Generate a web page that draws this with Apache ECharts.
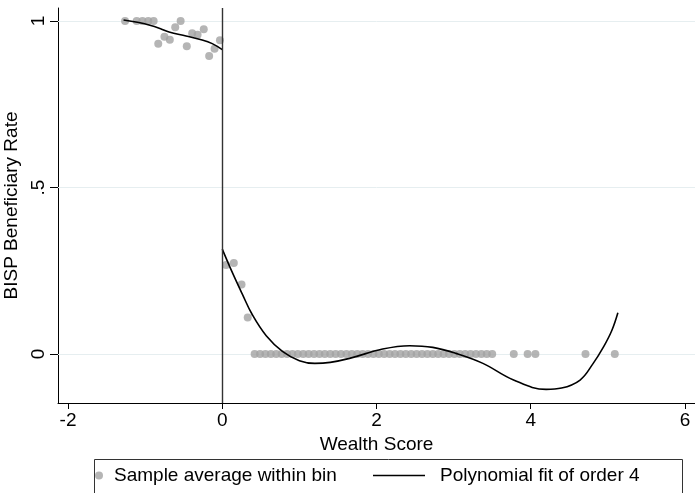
<!DOCTYPE html>
<html>
<head>
<meta charset="utf-8">
<script src="https://cdn.jsdelivr.net/npm/echarts@6/dist/echarts.min.js"></script>
<style>html,body{margin:0;padding:0;background:#fff}#c{width:695px;height:493px}</style>
</head>
<body>
<div id="c"></div>
<script>
// Binned sample averages (left of cutoff)
var leftBinX = [-1.26, -1.11, -1.035, -0.96, -0.89, -0.83, -0.75, -0.68, -0.61, -0.54, -0.46, -0.39, -0.32, -0.24, -0.17, -0.10, -0.03];
var leftBinY = [1.0, 1.0, 1.0, 1.0, 1.0, 0.932, 0.953, 0.944, 0.981, 1.0, 0.924, 0.963, 0.959, 0.975, 0.895, 0.917, 0.942];
// Binned sample averages (right of cutoff)
var rightBinX = [0.05, 0.15, 0.25, 0.33,
  0.42, 0.49, 0.56, 0.63, 0.70, 0.77, 0.84, 0.91, 0.98, 1.05, 1.12, 1.19, 1.26, 1.33, 1.40,
  1.47, 1.54, 1.61, 1.68, 1.75, 1.82, 1.89, 1.96, 2.03, 2.10, 2.17, 2.24, 2.31, 2.38, 2.45,
  2.52, 2.59, 2.66, 2.73, 2.80, 2.87, 2.94, 3.01, 3.08, 3.15, 3.22, 3.29, 3.36, 3.43, 3.50,
  3.78, 3.96, 4.06, 4.71, 5.09];
var rightBinY = [0.267, 0.273, 0.209, 0.110,
  0, 0, 0, 0, 0, 0, 0, 0, 0, 0, 0, 0, 0, 0, 0,
  0, 0, 0, 0, 0, 0, 0, 0, 0, 0, 0, 0, 0, 0, 0,
  0, 0, 0, 0, 0, 0, 0, 0, 0, 0, 0, 0, 0, 0, 0,
  0, 0, 0, 0, 0];
// Polynomial fit (order 4)
var leftFitX = [-1.28, -1.1, -0.95, -0.8, -0.69, -0.47, -0.26, -0.13, 0];
var leftFitY = [1.003, 0.996, 0.988, 0.977, 0.967, 0.955, 0.943, 0.932, 0.914];
var rightFitX = [0, 0.13, 0.26, 0.39, 0.57, 0.78, 1.0, 1.2, 1.4, 1.65, 2.08, 2.43, 2.73, 3.03, 3.38, 3.77, 4.2, 4.4, 4.64, 4.81, 4.94, 5.05, 5.13];
var rightFitY = [0.315, 0.245, 0.18, 0.118, 0.055, 0.008, -0.02, -0.028, -0.025, -0.013, 0.015, 0.025, 0.02, 0.002, -0.028, -0.077, -0.106, -0.102, -0.078, -0.028, 0.02, 0.07, 0.124];
// Ticks
var xTicks = [-2, 0, 2, 4, 6];
var xTickLabels = ['-2', '0', '2', '4', '6'];
var yTicks = [0, 0.5, 1];
var yTickLabels = ['0', '.5', '1'];
var cutoff = 0;

function zip(a, b) { return a.map(function (v, i) { return [v, b[i]]; }); }
var binData = zip(leftBinX, leftBinY).concat(zip(rightBinX, rightBinY));

var FONT = 'Liberation Sans';
var FS = 19;
var chart = echarts.init(document.getElementById('c'), null, { renderer: 'canvas' });
chart.setOption({
  animation: false,
  backgroundColor: '#fff',
  textStyle: { fontFamily: FONT },
  grid: { left: 58, right: 0, top: 8, bottom: 90, containLabel: false, outerBoundsMode: 'none' },
  xAxis: {
    type: 'value', min: -2.13, max: 6.13,
    axisLine: { show: true, onZero: false, lineStyle: { color: '#000', width: 1 } },
    axisTick: { show: true, length: 6, customValues: xTicks, lineStyle: { color: '#000' } },
    axisLabel: { show: true, customValues: xTicks, margin: 8, color: '#000', fontSize: FS, fontFamily: FONT, hideOverlap: false,
      formatter: function (v) { var i = xTicks.indexOf(v); return i >= 0 ? xTickLabels[i] : ''; } },
    splitLine: { show: false },
    name: 'Wealth Score', nameLocation: 'middle', nameGap: 27,
    nameTextStyle: { color: '#000', fontSize: FS, fontFamily: FONT }
  },
  yAxis: {
    type: 'value', min: -0.147, max: 1.039,
    axisLine: { show: true, onZero: false, lineStyle: { color: '#000', width: 1 } },
    axisTick: { show: true, length: 8, customValues: yTicks, lineStyle: { color: '#000' } },
    axisLabel: { show: true, customValues: yTicks, rotate: 90, margin: 10, color: '#000', fontSize: FS, fontFamily: FONT,
      formatter: function (v) { var i = yTicks.indexOf(v); return i >= 0 ? yTickLabels[i] : ''; } },
    splitLine: { show: false },
    name: 'BISP Beneficiary Rate', nameLocation: 'middle', nameGap: 32,
    nameTextStyle: { color: '#000', fontSize: FS, fontFamily: FONT }
  },
  legend: [
    { left: 90, top: 461, itemWidth: 8, itemHeight: 8, icon: 'circle',
      data: ['Sample average within bin'],
      textStyle: { color: '#000', fontSize: FS, fontFamily: FONT, padding: [0, 0, 0, 6] } },
    { left: 368, top: 461, itemWidth: 52, itemHeight: 1.5, icon: 'rect',
      data: ['Polynomial fit of order 4'],
      textStyle: { color: '#000', fontSize: FS, fontFamily: FONT, padding: [0, 0, 0, 10] } }
  ],
  graphic: [{
    type: 'rect', left: 92, top: 457, z: 0, silent: true,
    shape: { width: 588, height: 45 },
    style: { fill: 'none', stroke: '#333', lineWidth: 1 }
  }],
  series: [
    {
      name: 'Sample average within bin', type: 'scatter', z: 3,
      symbol: 'circle', symbolSize: 8,
      itemStyle: { color: '#a3a3a3' },
      data: binData,
      markLine: {
        z: 1, silent: true, symbol: 'none', animation: false,
        label: { show: false },
        lineStyle: { color: '#e6eef0', width: 1, type: 'solid' },
        data: yTicks.map(function (v) { return { yAxis: v }; })
      }
    },
    {
      name: 'Polynomial fit of order 4', type: 'line', z: 4,
      smooth: 0.4, symbol: 'none', showSymbol: false,
      lineStyle: { color: '#000', width: 1.6 },
      itemStyle: { color: '#000' },
      data: zip(leftFitX, leftFitY)
    },
    {
      name: 'Polynomial fit of order 4', type: 'line', z: 4,
      smooth: 0.4, symbol: 'none', showSymbol: false,
      lineStyle: { color: '#000', width: 1.6 },
      itemStyle: { color: '#000' },
      data: zip(rightFitX, rightFitY),
      markLine: {
        z: 5, silent: true, symbol: 'none', animation: false,
        label: { show: false },
        lineStyle: { color: '#333', width: 1.4, type: 'solid' },
        data: [{ xAxis: cutoff }]
      }
    }
  ]
});
</script>
</body>
</html>
